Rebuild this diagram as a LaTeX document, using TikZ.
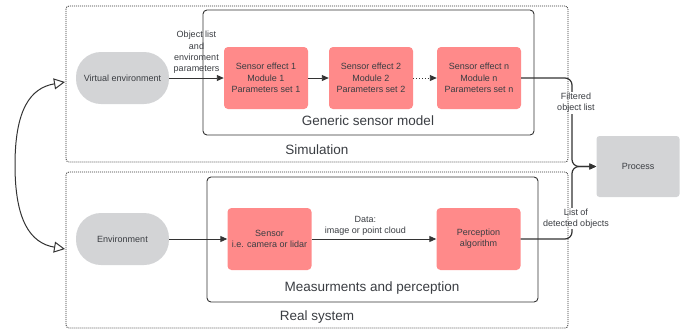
\documentclass[tikz,border=0pt]{standalone}
\usepackage{fontspec}
\setmainfont{Liberation Sans}
\usepackage{xcolor}
\usetikzlibrary{arrows.meta, positioning, calc}
\definecolor{spink}{HTML}{FF8A8A}
\definecolor{sgray}{HTML}{D3D4D6}
\definecolor{stext}{HTML}{3A3D42}
\definecolor{sline}{HTML}{333333}

\tikzset{
  small/.style={font=\fontsize{9}{11.3}\selectfont, text=stext, align=center},
  big/.style={font=\fontsize{13.5}{16}\selectfont, text=stext},
  effect/.style={small, fill=spink, rounded corners=4pt, minimum width=84pt, minimum height=62pt, inner sep=1pt},
  envbox/.style={small, fill=sgray, rounded corners=25pt, minimum width=93pt, minimum height=52pt},
  procbox/.style={small, fill=sgray, rounded corners=3pt, minimum width=83pt, minimum height=61pt},
  group/.style={draw=sline, rounded corners=4pt, line width=0.9pt},
  realm/.style={draw=sline, dash pattern=on 1pt off 1pt, rounded corners=3pt, line width=0.8pt},
  flow/.style={draw=sline, line width=0.9pt, -{Triangle[length=7pt, width=6pt]}},
  link/.style={draw=sline, line width=1pt, {Triangle[open, length=11pt, width=11pt]}-{Triangle[open, length=11pt, width=11pt]}},
  tag/.style={small, fill=white, inner sep=1pt},
}

\begin{document}
\begin{tikzpicture}[x=1pt, y=-1pt]
  \useasboundingbox (0,0) rectangle (686,330);

  %% Simulation
  \draw[group] (203,10) rectangle (534,135);
  \node[big] (gsmlabel) at (368,121) {Generic sensor model};
  \node[big] (simlabel) at (317,150) {Simulation};

  \node[envbox] (virtenv) at (122.5,78) {Virtual environment};
  \node[effect] (eff1) at (266,78) {Sensor effect 1\\Module 1\\Parameters set 1};
  \node[effect] (eff2) at (371,78) {Sensor effect 2\\Module 2\\Parameters set 2};
  \node[effect] (effn) at (479,78) {Sensor effect n\\Module n\\Parameters set n};

  \draw[flow] (virtenv) -- node[small, above, inner sep=4pt] (objlabel)
    {Object list\\and\\enviroment\\parameters} (eff1);
  \draw[flow] (eff1) -- (eff2);
  \draw[flow, dotted] (eff2) -- (effn);

  %% Real system
  \draw[group] (207,177) rectangle (538,302);
  \node[big] (maplabel) at (372,288) {Measurments and perception};
  \node[big] (reallabel) at (317,317) {Real system};

  \node[envbox] (env) at (122.5,239) {Environment};
  \node[effect] (sensor) at (269.5,239) {Sensor\\i.e. camera or lidar};
  \node[effect] (percep) at (478.5,239) {Perception\\algorithm};

  \draw[flow] (env) -- (sensor);
  \draw[flow] (sensor) -- node[small, above, pos=0.43, inner sep=3pt] (datalabel)
    {Data:\\image or point cloud} (percep);

  %% Process
  \node[procbox] (process) at (638,166.5) {Process};
  \coordinate (merge) at (572,166.5);
  \draw[flow, line width=1.2pt, rounded corners=7pt] (effn.east) -| (merge) -- (process.west);
  \draw[flow, line width=1.2pt, rounded corners=7pt] (percep.east) -| (merge) -- (process.west);
  \node[tag] (filtlabel) at (576,103) {Filtered\\object list};
  \node[tag] (detlabel) at (576,218.5) {List of\\detected objects};

  %% Realms (dotted, on top)
  \draw[realm] (66,6) rectangle (568,162);
  \draw[realm] (66,172) rectangle (568,328);

  %% Link between real and virtual
  \coordinate (simwest) at (65,82);
  \coordinate (realwest) at (65,249);
  \draw[link] (simwest) .. controls (30,88) and (15,110) .. (15,165)
    .. controls (15,220) and (30,243) .. (realwest);

\end{tikzpicture}
\end{document}
